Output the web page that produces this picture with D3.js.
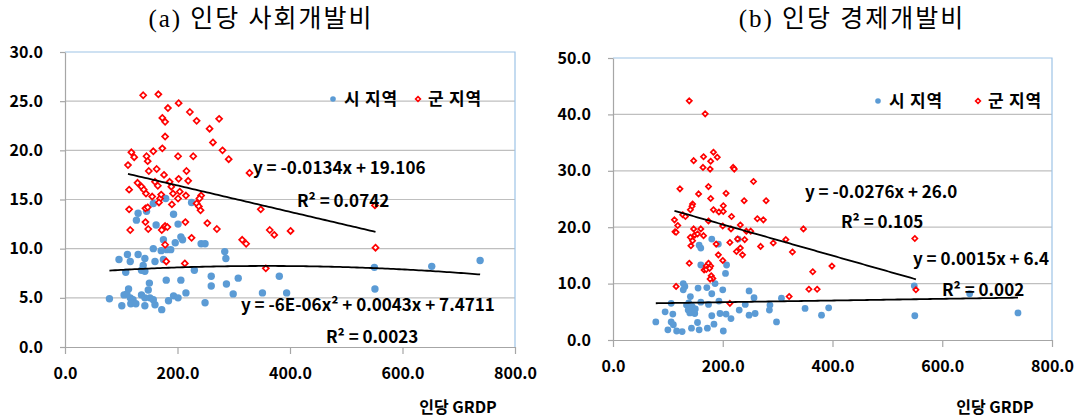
<!DOCTYPE html>
<html>
<head>
<meta charset="utf-8">
<script src="https://cdn.jsdelivr.net/npm/d3@7"></script>
<style>
  body { margin: 0; background: #fff; }
  svg text { font-family: "Noto Sans CJK KR", "Noto Sans", sans-serif; }
</style>
</head>
<body>
<svg id="chart" width="1076" height="417"></svg>
<script>
// ---- data: [인당 GRDP, 인당 개발비] ----
const socialCity = [
  [130,13.6],[127,12.9],[162,12.4],[193,13.5],[201,12.5],[206,11.2],[209,10.9],[196,10.6],[175,10.9],[157,10.0],
  [171,9.8],[181,9.9],[188,9.9],[242,10.5],[249,10.5],[284,9.7],[286,9.0],[96,8.9],[111,9.4],[116,8.7],
  [130,9.4],[142,9.0],[139,8.3],[136,7.8],[142,7.7],[160,8.7],[175,8.9],[108,7.6],[230,7.8],[260,7.2],
  [260,6.2],[308,7.0],[287,6.4],[299,5.4],[381,7.2],[351,5.5],[394,5.5],[249,4.5],[180,6.8],[206,6.8],
  [150,6.5],[148,5.8],[113,5.9],[110,5.4],[105,5.3],[116,5.0],[121,4.8],[136,5.3],[142,5.0],[151,5.0],
  [157,4.8],[193,5.2],[201,5.0],[215,5.5],[184,4.7],[79,4.9],[101,4.2],[117,4.4],[126,4.4],[142,4.2],
  [160,4.3],[172,3.8],[179,15.1],[157,14.6],[225,14.7],[145,13.8],[550,8.1],[551,5.9],[652,8.2],[738,8.8]
];
const socialCounty = [
  [139,25.6],[166,25.7],[202,24.8],[183,24.3],[222,23.9],[173,23.3],[178,22.9],[234,23.0],[274,23.2],[257,22.2],
  [178,21.4],[263,20.8],[280,20.0],[291,19.1],[118,19.8],[123,19.3],[112,18.5],[145,19.4],[147,18.9],[157,19.9],
  [173,20.2],[201,19.4],[228,19.4],[163,18.1],[149,17.9],[176,17.5],[216,17.9],[219,16.9],[202,17.1],[328,17.7],
  [114,16.0],[129,16.7],[136,16.3],[140,16.0],[144,15.6],[160,16.8],[165,16.4],[155,15.3],[169,15.1],[171,15.5],
  [186,16.8],[189,16.3],[192,15.6],[204,15.8],[201,15.1],[215,15.4],[190,14.5],[242,15.4],[239,15.1],[234,14.6],
  [238,14.3],[241,13.9],[114,14.0],[143,14.1],[147,14.2],[167,14.7],[143,12.7],[148,12.0],[116,11.9],[175,12.1],
  [178,12.3],[182,12.2],[172,11.9],[214,12.7],[253,12.6],[270,12.0],[225,11.1],[315,10.9],[322,10.5],[178,10.4],
  [180,8.7],[213,8.5],[357,8.0],[364,11.9],[348,14.0],[372,11.4],[401,11.8],[551,14.4],[552,10.1]
];
const econCity = [
  [180,17.9],[192,17.0],[157,16.8],[160,16.3],[228,17.9],[207,13.3],[205,11.8],[160,13.3],[128,10.0],[131,9.5],
  [128,8.9],[155,9.2],[171,9.3],[180,8.2],[186,10.0],[200,8.9],[141,7.7],[160,6.7],[174,6.3],[193,6.9],
  [106,6.5],[95,5.0],[109,4.6],[134,6.2],[137,5.3],[140,4.8],[146,5.6],[149,4.7],[78,3.2],[106,3.2],
  [110,2.7],[100,1.8],[116,1.6],[126,1.5],[143,2.1],[157,1.8],[154,3.1],[172,2.1],[184,2.8],[201,1.6],
  [180,4.3],[195,4.7],[206,4.6],[215,3.8],[248,8.7],[257,7.5],[241,6.3],[230,5.3],[248,4.4],[259,4.7],
  [286,6.2],[285,5.3],[298,3.2],[307,7.4],[350,5.6],[380,4.4],[393,5.7],[549,9.6],[550,4.3],[650,8.2],
  [738,4.8],[144,6.0],[150,5.5],[138,6.6]
];
const econCounty = [
  [139,42.4],[168,40.1],[183,33.3],[190,32.4],[165,32.5],[147,31.8],[178,31.7],[164,30.6],[177,30.3],[219,30.6],
  [221,30.3],[122,26.8],[156,25.9],[174,27.2],[178,25.1],[206,26.0],[256,28.1],[239,24.7],[279,24.7],[145,24.1],
  [144,23.7],[141,23.1],[183,23.1],[201,23.8],[193,22.7],[201,22.8],[174,21.1],[216,21.9],[263,21.5],[274,21.3],
  [127,22.2],[132,21.9],[112,21.3],[118,20.3],[113,19.2],[115,19.1],[147,19.7],[160,19.7],[200,20.2],[215,19.7],
  [232,20.4],[243,19.3],[251,19.3],[149,18.6],[154,18.8],[165,18.5],[141,18.2],[145,17.6],[142,16.7],[188,17.0],
  [213,17.3],[227,17.9],[240,17.8],[232,16.3],[225,15.7],[236,15.1],[192,15.1],[200,14.1],[269,16.6],[292,17.2],
  [139,13.6],[170,13.1],[174,13.6],[178,13.1],[166,12.4],[170,12.5],[176,12.7],[179,11.4],[182,10.9],[177,10.8],
  [115,9.5],[213,6.5],[321,7.7],[315,17.8],[327,15.6],[347,19.7],[357,9.0],[372,9.0],[364,12.1],[399,13.1],
  [550,18.0],[552,8.9]
];

// trendline coefficients, constant term first
const socialCityFit = [7.4711, 0.0043, -6e-6];
const socialCountyFit = [19.106, -0.0134];
const econCityFit = [6.4, 0.0015];
const econCountyFit = [26.0, -0.0276];

const socialLabels = ["y = -0.0134x + 19.106", "R² = 0.0742", "y = -6E-06x² + 0.0043x + 7.4711", "R² = 0.0023"];
const econLabels = ["y = -0.0276x + 26.0", "R² = 0.105", "y = 0.0015x + 6.4", "R² = 0.002"];

const xTicks = [0, 200, 400, 600, 800];
const socialTicks = [0, 5, 10, 15, 20, 25, 30];
const econTicks = [0, 10, 20, 30, 40, 50];
const seriesNames = ["시 지역", "군 지역"];
const titles = ["(a)  인당  사회개발비", "(b)  인당  경제개발비"];
const xTitle = "인당 GRDP";

const svg = d3.select("#chart");
svg.append("rect").attr("width", 1076).attr("height", 417).attr("fill", "#fff");

const BLUE = "#5B9BD5";
const RED = "#FF0000";
const fmt = d3.format(".1f");

function diamond(s) {
    return "M0," + (-s) + "L" + s + ",0L0," + s + "L" + (-s) + ",0Z";
}

function drawPanel(p) {
    const x = d3.scaleLinear().domain([0, 800]).range([p.left, p.right]);
    const y = d3.scaleLinear().domain([0, p.ticks[p.ticks.length - 1]]).range([p.bottom, p.top]);
    const g = svg.append("g");

    // gridlines
    g.selectAll("line.grid")
        .data(p.ticks.slice(1, -1))
        .enter().append("line")
        .attr("x1", p.left).attr("x2", p.right)
        .attr("y1", d => y(d)).attr("y2", d => y(d))
        .attr("stroke", "#BFBFBF").attr("stroke-width", 1.2);

    // plot border (top/right)
    g.append("path")
        .attr("d", "M" + p.left + "," + p.top + "H" + p.right + "V" + p.bottom)
        .attr("fill", "none").attr("stroke", "#9DC3E6").attr("stroke-width", 1.2);

    // axes
    const ya = g.append("g")
        .attr("transform", "translate(" + p.left + ",0)")
        .call(d3.axisLeft(y).tickValues(p.ticks).tickSize(5).tickSizeOuter(0).tickPadding(17).tickFormat(fmt));
    const xa = g.append("g")
        .attr("transform", "translate(0," + p.bottom + ")")
        .call(d3.axisBottom(x).tickValues(xTicks).tickSize(7).tickSizeOuter(0).tickPadding(14).tickFormat(fmt));
    [ya, xa].forEach(a => {
        a.select(".domain").attr("stroke", "#A6A6A6").attr("stroke-width", 1.2);
        a.selectAll(".tick line").attr("stroke", "#A6A6A6").attr("stroke-width", 1.2);
        a.selectAll(".tick text")
            .attr("fill", "#000")
            .style("font-size", "16px")
            .style("font-weight", "bold");
    });

    // points: 시 then 군
    g.selectAll("circle.city")
        .data(p.city)
        .enter().append("circle")
        .attr("cx", d => x(d[0])).attr("cy", d => y(d[1]))
        .attr("r", p.dotR).attr("fill", BLUE);

    g.selectAll("path.county")
        .data(p.county)
        .enter().append("path")
        .attr("transform", d => "translate(" + x(d[0]) + "," + y(d[1]) + ")")
        .attr("d", diamond(p.diaR))
        .attr("fill", "#fff").attr("stroke", RED).attr("stroke-width", 1.7);

    // trendlines
    const poly = c => v => c.reduce((s, k, i) => s + k * Math.pow(v, i), 0);
    [[p.city, p.cityFit], [p.county, p.countyFit]].forEach(([pts, fit]) => {
        const ext = d3.extent(pts, d => d[0]);
        const f = poly(fit);
        const xs = d3.range(ext[0], ext[1], 5).concat([ext[1]]);
        g.append("path")
            .datum(xs)
            .attr("d", d3.line().x(v => x(v)).y(v => y(f(v))))
            .attr("fill", "none").attr("stroke", "#000").attr("stroke-width", 1.8);
    });

    // equation labels
    g.selectAll("text.eq")
        .data(p.labels)
        .enter().append("text")
        .attr("x", (d, i) => p.labelPos[i][0])
        .attr("y", (d, i) => p.labelPos[i][1])
        .style("font-size", "17px").style("font-weight", "bold")
        .text(d => d);

    // legend
    const lg = g.append("g").attr("transform", "translate(" + p.legend[0] + "," + p.legend[1] + ")");
    lg.append("circle").attr("cx", 0).attr("cy", 0).attr("r", 2.8).attr("fill", BLUE);
    lg.append("text").attr("x", 11).attr("y", 6).style("font-size", "17px").style("font-weight", "bold")
        .style("letter-spacing", "0.8px").text(seriesNames[0]);
    lg.append("path").attr("transform", "translate(" + p.legendGap + ",0)")
        .attr("d", diamond(2.4)).attr("fill", "#fff").attr("stroke", RED).attr("stroke-width", 1.6);
    lg.append("text").attr("x", p.legendGap + 10).attr("y", 6).style("font-size", "17px").style("font-weight", "bold")
        .style("letter-spacing", "0.8px").text(seriesNames[1]);

    // titles
    svg.append("text")
        .attr("x", p.titleX).attr("y", 27)
        .attr("text-anchor", "middle")
        .style("font-family", "'Liberation Serif', 'Noto Sans CJK KR', serif")
        .style("font-size", "25px")
        .style("letter-spacing", "2px")
        .text(p.title);
    svg.append("text")
        .attr("x", p.right - 57).attr("y", 413)
        .attr("text-anchor", "middle")
        .style("font-size", "16px").style("font-weight", "bold")
        .text(xTitle);
}

drawPanel({
    left: 65, right: 515, top: 52, bottom: 347,
    ticks: socialTicks, city: socialCity, county: socialCounty,
    cityFit: socialCityFit, countyFit: socialCountyFit,
    labels: socialLabels,
    labelPos: [[253, 174], [297, 207], [241, 311], [326, 343]],
    legend: [333, 99], legendGap: 85,
    dotR: 3.7, diaR: 3.0,
    title: titles[0], titleX: 261
});
drawPanel({
    left: 613, right: 1052, top: 58, bottom: 340,
    ticks: econTicks, city: econCity, county: econCounty,
    cityFit: econCityFit, countyFit: econCountyFit,
    labels: econLabels,
    labelPos: [[805, 198], [841, 228], [913, 265], [942, 296]],
    legend: [878, 101], legendGap: 100,
    dotR: 3.4, diaR: 2.6,
    title: titles[1], titleX: 852
});
</script>
</body>
</html>
